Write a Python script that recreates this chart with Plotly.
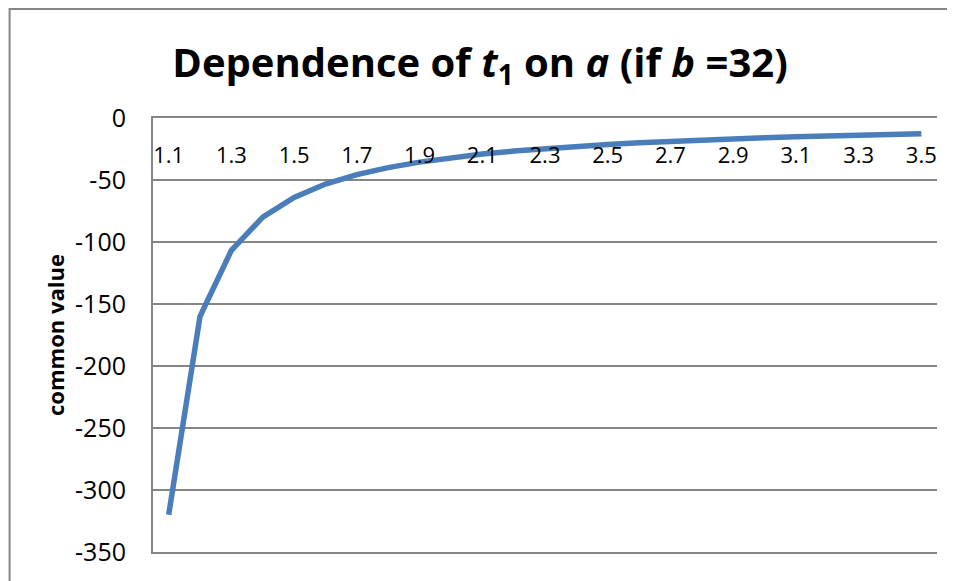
import plotly.graph_objects as go

a_values = ["1.1", "1.2", "1.3", "1.4", "1.5", "1.6", "1.7", "1.8", "1.9", "2.0",
            "2.1", "2.2", "2.3", "2.4", "2.5", "2.6", "2.7", "2.8", "2.9", "3.0",
            "3.1", "3.2", "3.3", "3.4", "3.5"]
t1_values = [-320, -160, -106.7, -80, -64, -53.3, -45.7, -40, -35.6, -32,
             -29.1, -26.7, -24.6, -22.9, -21.3, -20, -18.8, -17.8, -16.8, -16,
             -15.2, -14.5, -13.9, -13.3, -12.8]
x_tick_labels = ["1.1", "1.3", "1.5", "1.7", "1.9", "2.1", "2.3", "2.5", "2.7",
                 "2.9", "3.1", "3.3", "3.5"]
y_ticks = [0, -50, -100, -150, -200, -250, -300, -350]
y_tick_labels = ["0", "-50", "-100", "-150", "-200", "-250", "-300", "-350"]

# page body has an 8px margin; work in figure coordinates
OFF = 8
W, H = 955 - OFF, 581 - OFF
L, R, T, B = 152.5 - OFF, 18, 118 - OFF, 29
pw, ph = W - L - R, H - T - B

FONT = "Open Sans, Lato, sans-serif"
GRID = "#868686"

fig = go.Figure()
fig.add_trace(go.Scatter(
    x=a_values, y=t1_values, mode="lines",
    line=dict(color="#4A7EBB", width=5.5),
    showlegend=False, hoverinfo="skip",
))
# invisible trace that carries the inner x tick label axis
fig.add_trace(go.Scatter(
    x=a_values, y=t1_values, xaxis="x2", mode="lines",
    line=dict(width=0), opacity=0, showlegend=False, hoverinfo="skip",
))

fig.update_layout(
    width=W, height=H,
    margin=dict(l=L, r=R, t=T, b=B, pad=0),
    paper_bgcolor="white", plot_bgcolor="white",
    font=dict(family=FONT, color="black", size=21),
    title=dict(
        text="Dependence of <i>t</i><sub>1</sub> on <i>a</i> (if <i>b</i> =32)",
        font=dict(family=FONT, size=40, color="black", weight="bold"),
        x=(480 - OFF) / W, xanchor="center", y=1 - (63 - OFF) / H, yanchor="middle",
    ),
    xaxis=dict(
        type="category", side="top", mirror=True,
        categoryorder="array", categoryarray=a_values,
        range=[-0.5, len(a_values) - 0.5],
        showgrid=False, showline=True, linecolor=GRID, linewidth=2,
        ticks="", showticklabels=False, zeroline=False, automargin=False,
    ),
    xaxis2=dict(
        type="category", overlaying="x", anchor="free", side="bottom",
        position=1 - 22 / ph,
        categoryorder="array", categoryarray=a_values,
        range=[-0.5, len(a_values) - 0.5],
        tickmode="array", tickvals=x_tick_labels, ticktext=x_tick_labels,
        showgrid=False, showline=False, ticks="", zeroline=False,
        tickfont=dict(family=FONT, size=22), automargin=False,
    ),
    yaxis=dict(
        range=[-350, 0], tickmode="array", tickvals=y_ticks, ticktext=y_tick_labels,
        showgrid=True, gridcolor=GRID, gridwidth=1.5,
        showline=True, linecolor=GRID, linewidth=2,
        zeroline=False, ticks="", ticklabelstandoff=20, automargin=False,
        tickfont=dict(family=FONT, size=25),
        title=dict(text="<b>common value</b>", font=dict(family=FONT, size=22),
                   standoff=4),
    ),
)

# outer chart border (top and left edges visible)
fig.add_shape(type="rect", xref="paper", yref="paper",
              x0=(1 - L) / pw, x1=(W + 5 - L) / pw,
              y0=-(B + 10) / ph, y1=(H - B - 1) / ph,
              line=dict(color=GRID, width=2), fillcolor="rgba(0,0,0,0)", layer="below")

fig.write_html("out.html")
